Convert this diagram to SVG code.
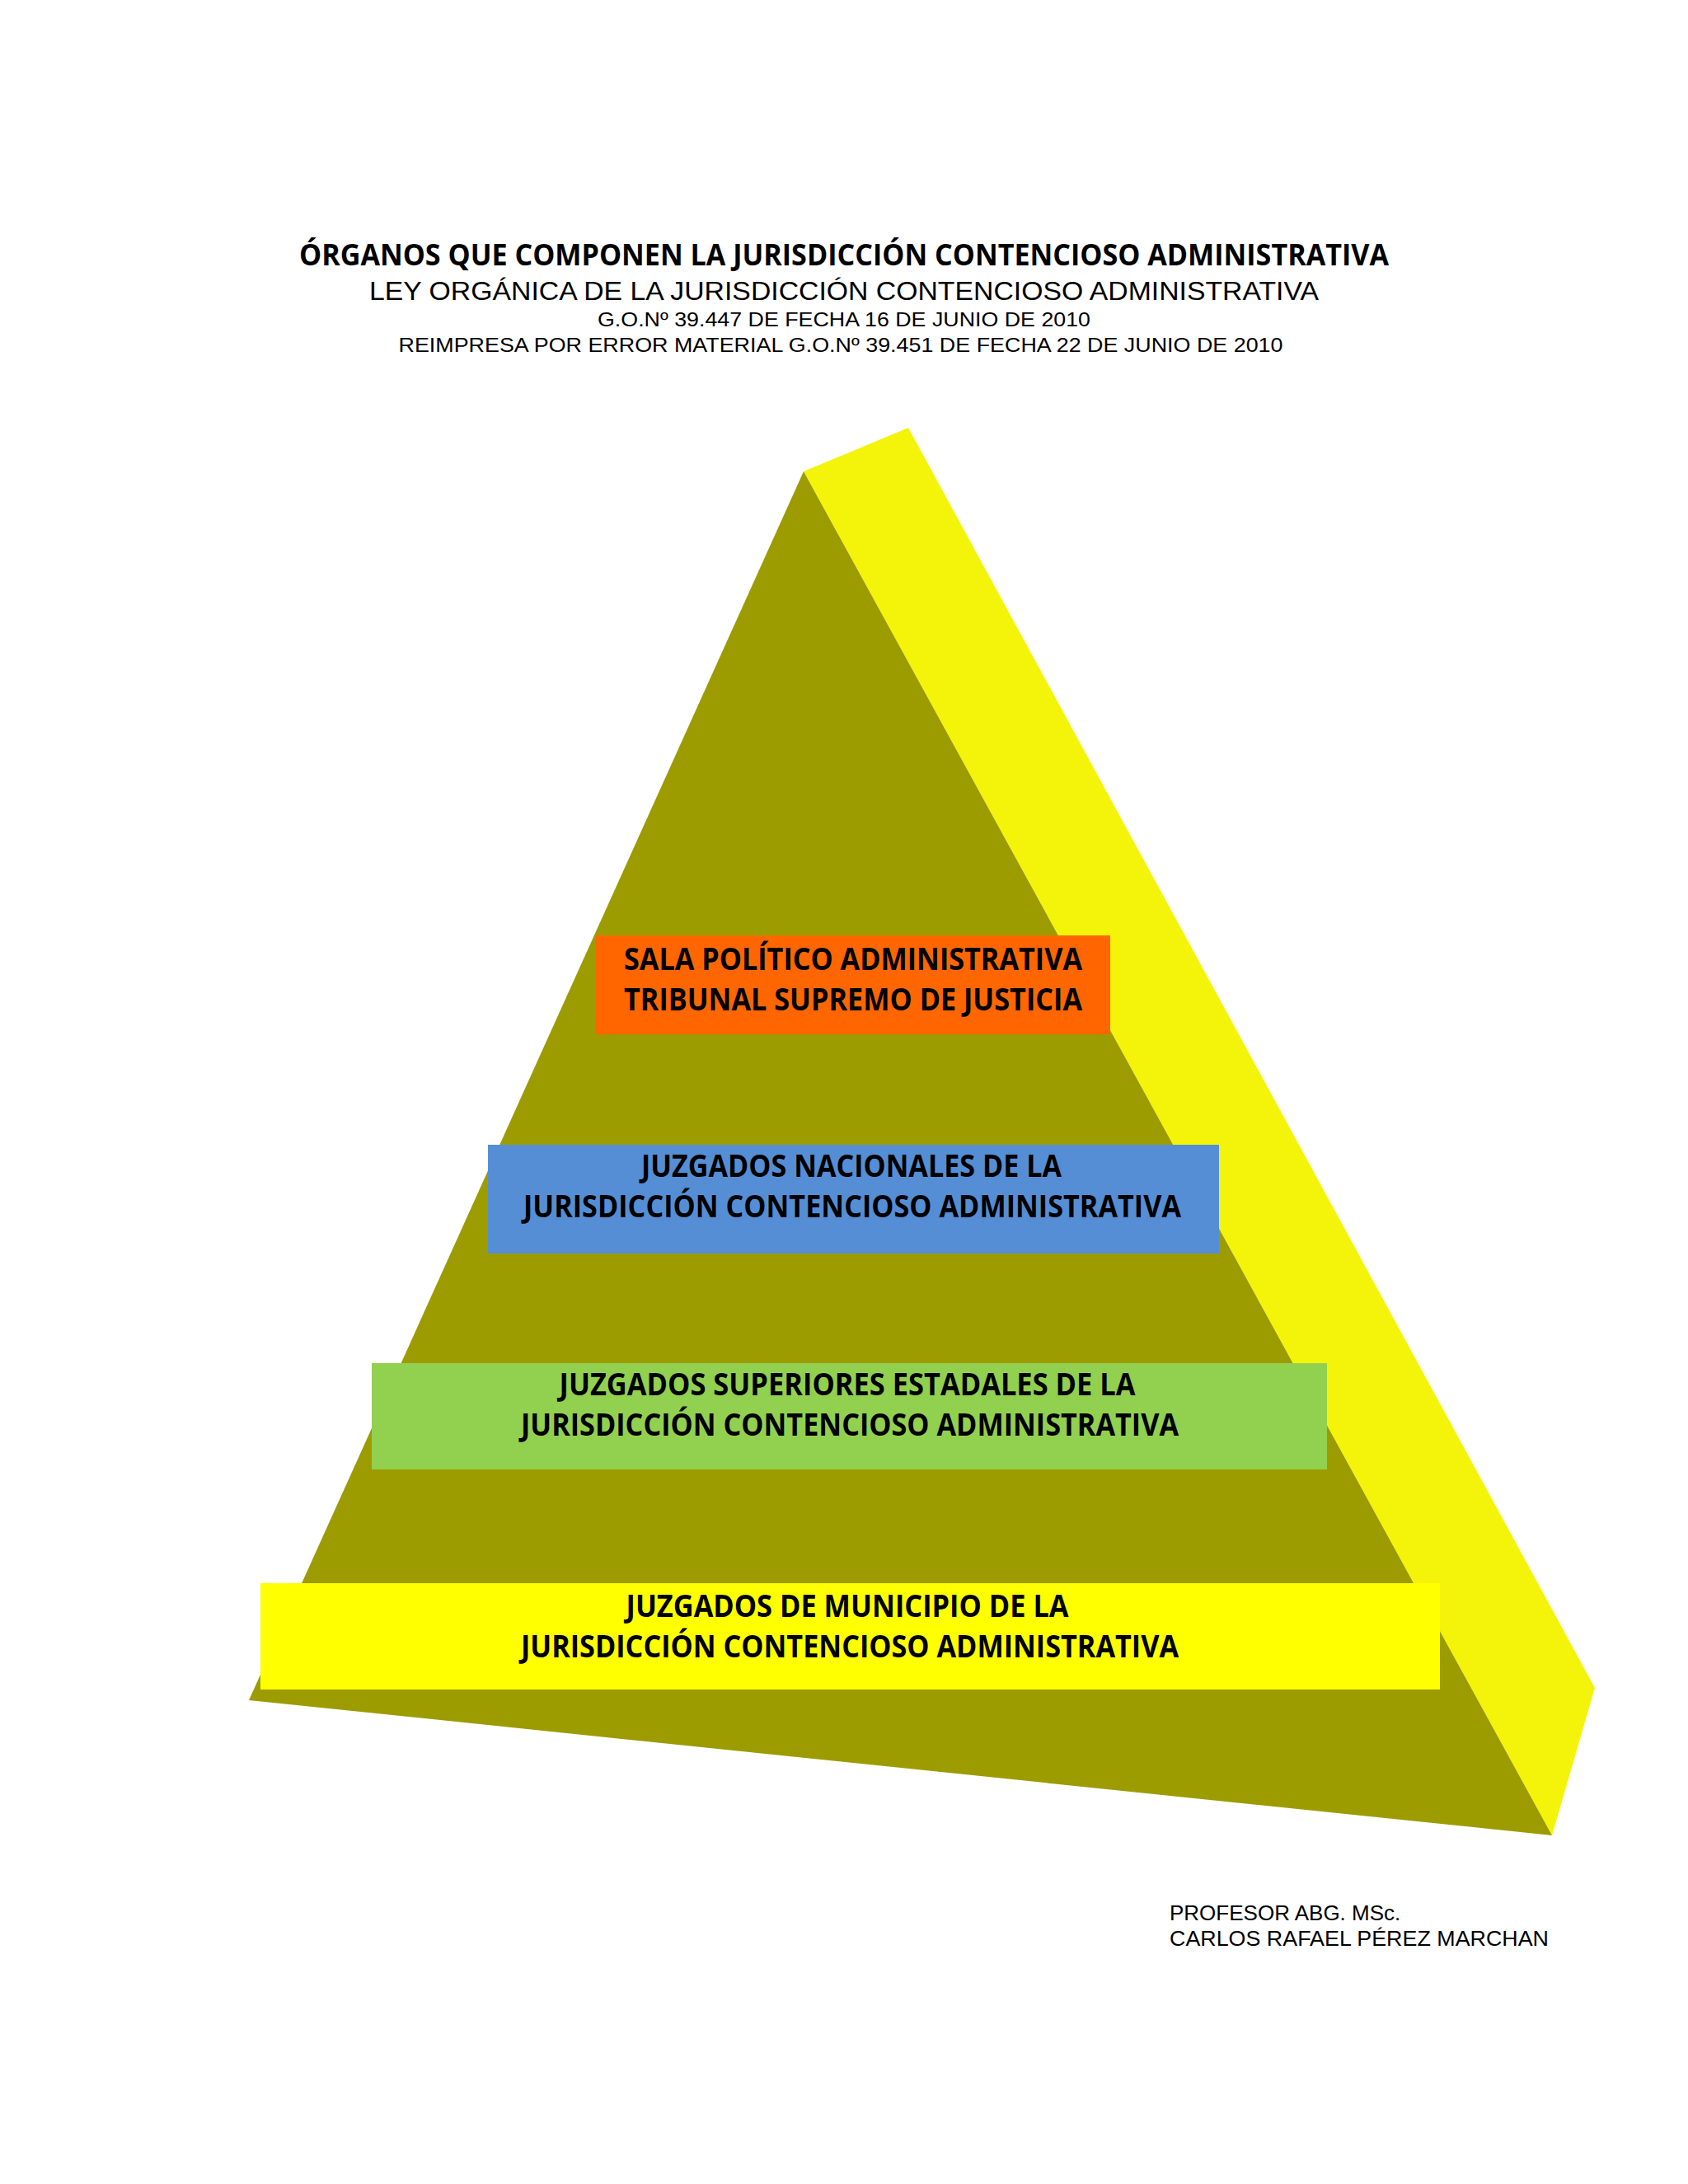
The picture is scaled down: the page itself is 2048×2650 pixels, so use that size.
<svg xmlns="http://www.w3.org/2000/svg" width="2048" height="2650" viewBox="0 0 2048 2650">
<style>
.hdr{font-family:"Liberation Sans",Arial,sans-serif;fill:#000;text-anchor:middle}
.ttl{font-family:"Open Sans","Liberation Sans",sans-serif;font-weight:bold;fill:#000;text-anchor:middle}
.lbl{font-family:"Open Sans","Liberation Sans",sans-serif;font-weight:bold;font-size:37px;fill:#000;text-anchor:middle}
.foot{font-family:"Liberation Sans",Arial,sans-serif;font-size:26px;fill:#000}
</style>
<rect width="2048" height="2650" fill="#ffffff"/>
<g id="header">
<text class="ttl" x="1024" y="322" font-size="36" textLength="1322" lengthAdjust="spacingAndGlyphs">ÓRGANOS QUE COMPONEN LA JURISDICCIÓN CONTENCIOSO ADMINISTRATIVA</text>
<text class="hdr" x="1024" y="364" font-size="31" textLength="1152" lengthAdjust="spacingAndGlyphs">LEY ORGÁNICA DE LA JURISDICCIÓN CONTENCIOSO ADMINISTRATIVA</text>
<text class="hdr" x="1024" y="396" font-size="24" textLength="598" lengthAdjust="spacingAndGlyphs">G.O.Nº 39.447 DE FECHA 16 DE JUNIO DE 2010</text>
<text class="hdr" x="1020" y="427" font-size="24" textLength="1073" lengthAdjust="spacingAndGlyphs">REIMPRESA POR ERROR MATERIAL G.O.Nº 39.451 DE FECHA 22 DE JUNIO DE 2010</text>
</g>
<g id="pyramid">
<polygon points="975,572 1102,519 1935,2048 1883,2227" fill="#F4F40A"/>
<polygon points="975,572 302,2063 1883,2227" fill="#9C9C00"/>
</g>
<g id="node-sala">
<rect x="723" y="1135" width="624" height="120" fill="#FF6600"/>
<text class="lbl" x="1035" y="1177" textLength="556" lengthAdjust="spacingAndGlyphs">SALA POLÍTICO ADMINISTRATIVA</text>
<text class="lbl" x="1035" y="1226" textLength="556" lengthAdjust="spacingAndGlyphs">TRIBUNAL SUPREMO DE JUSTICIA</text>
</g>
<g id="node-nacionales">
<rect x="592" y="1389" width="887" height="132" fill="#558ED5"/>
<text class="lbl" x="1033" y="1428" textLength="510" lengthAdjust="spacingAndGlyphs">JUZGADOS NACIONALES DE LA</text>
<text class="lbl" x="1034" y="1477" textLength="798" lengthAdjust="spacingAndGlyphs">JURISDICCIÓN CONTENCIOSO ADMINISTRATIVA</text>
</g>
<g id="node-superiores">
<rect x="451" y="1654" width="1159" height="129" fill="#92D050"/>
<text class="lbl" x="1028" y="1693" textLength="699" lengthAdjust="spacingAndGlyphs">JUZGADOS SUPERIORES ESTADALES DE LA</text>
<text class="lbl" x="1031" y="1742" textLength="798" lengthAdjust="spacingAndGlyphs">JURISDICCIÓN CONTENCIOSO ADMINISTRATIVA</text>
</g>
<g id="node-municipio">
<rect x="316" y="1921" width="1431" height="129" fill="#FFFF00"/>
<text class="lbl" x="1028" y="1962" textLength="537" lengthAdjust="spacingAndGlyphs">JUZGADOS DE MUNICIPIO DE LA</text>
<text class="lbl" x="1031" y="2011" textLength="798" lengthAdjust="spacingAndGlyphs">JURISDICCIÓN CONTENCIOSO ADMINISTRATIVA</text>
</g>
<g id="footer">
<text class="foot" x="1419" y="2330">PROFESOR ABG. MSc.</text>
<text class="foot" x="1419" y="2361" textLength="460" lengthAdjust="spacingAndGlyphs">CARLOS RAFAEL PÉREZ MARCHAN</text>
</g>
</svg>
